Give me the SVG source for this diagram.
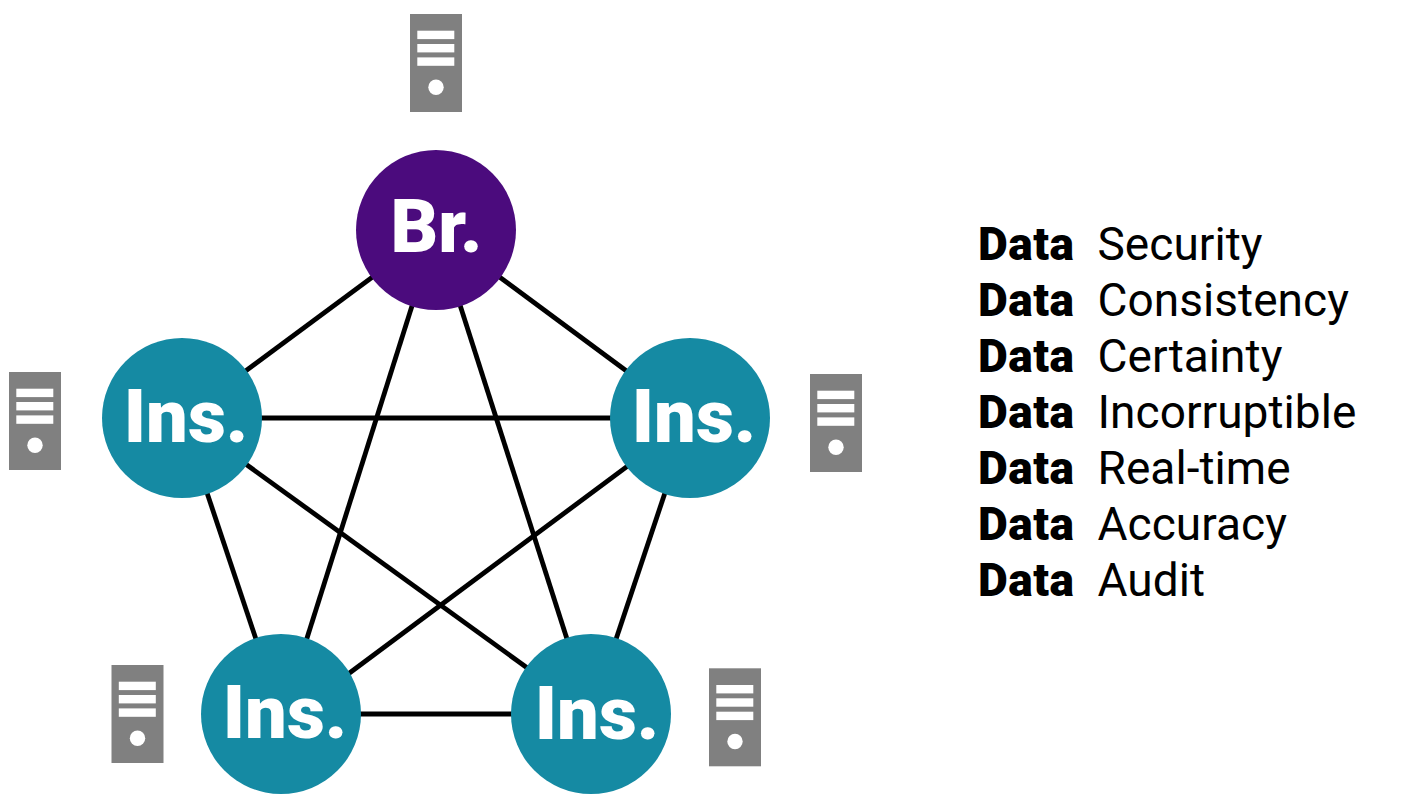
<svg xmlns="http://www.w3.org/2000/svg" xmlns:xlink="http://www.w3.org/1999/xlink" width="1415" height="803" viewBox="0 0 1415 803">
<style>
.edge{stroke:#000;stroke-width:4.8;fill:none}
.br{fill:#4b0b7d}
.ins{fill:#158aa3}
.nl{font-family:Roboto,"Liberation Sans",sans-serif;font-weight:900;font-size:74px;fill:#fff;text-anchor:middle}
.b{font-family:Roboto,"Liberation Sans",sans-serif;font-weight:900;font-size:46px;letter-spacing:.5px;fill:#000}
.r{font-family:Roboto,"Liberation Sans",sans-serif;font-weight:400;font-size:46px;letter-spacing:.05px;fill:#000}
</style>
<defs>
<g id="server">
<rect x="0" y="0" width="52" height="98" fill="#808080"/>
<rect x="7.3" y="16.7" width="37" height="8.4" fill="#fff"/>
<rect x="7.3" y="30" width="37" height="8.4" fill="#fff"/>
<rect x="7.3" y="43.4" width="37" height="8.4" fill="#fff"/>
<circle cx="26" cy="73.2" r="7.7" fill="#fff"/>
</g>
</defs>
<rect width="1415" height="803" fill="#fff"/>
<g id="connectors">
<line class="edge" x1="436" y1="230" x2="182" y2="418"/>
<line class="edge" x1="436" y1="230" x2="690" y2="418"/>
<line class="edge" x1="436" y1="230" x2="283" y2="714"/>
<line class="edge" x1="436" y1="230" x2="591" y2="714"/>
<line class="edge" x1="182" y1="418" x2="690" y2="418"/>
<line class="edge" x1="182" y1="418" x2="281" y2="714"/>
<line class="edge" x1="182" y1="418" x2="591" y2="714"/>
<line class="edge" x1="690" y1="419.6" x2="281" y2="724"/>
<line class="edge" x1="690" y1="418" x2="591" y2="714"/>
<line class="edge" x1="281" y1="714" x2="591" y2="714"/>
</g>
<g id="node-br"><circle class="br" cx="436" cy="230" r="80"/><text class="nl" x="436.5" y="252">Br.</text></g>
<g id="node-ins-left"><circle class="ins" cx="182" cy="418" r="80"/><text class="nl" x="186" y="442">Ins.</text></g>
<g id="node-ins-right"><circle class="ins" cx="690" cy="418" r="80"/><text class="nl" x="694" y="442">Ins.</text></g>
<g id="node-ins-bl"><circle class="ins" cx="281" cy="714" r="80"/><text class="nl" x="285" y="738">Ins.</text></g>
<g id="node-ins-br"><circle class="ins" cx="591" cy="714" r="80"/><text class="nl" x="597" y="738.5">Ins.</text></g>
<g id="server-top"><use xlink:href="#server" href="#server" x="410" y="14"/></g>
<g id="server-left"><use xlink:href="#server" href="#server" x="9" y="372"/></g>
<g id="server-right"><use xlink:href="#server" href="#server" x="810" y="374"/></g>
<g id="server-bl"><use xlink:href="#server" href="#server" x="111.500" y="665"/></g>
<g id="server-br"><use xlink:href="#server" href="#server" x="709" y="668.300"/></g>
<g id="legend">
<text class="b" x="978" y="260">Data</text><text class="r" x="1097.500" y="260">Security</text>
<text class="b" x="978" y="316">Data</text><text class="r" x="1097.500" y="316">Consistency</text>
<text class="b" x="978" y="372">Data</text><text class="r" x="1097.500" y="372">Certainty</text>
<text class="b" x="978" y="428">Data</text><text class="r" x="1097.500" y="428">Incorruptible</text>
<text class="b" x="978" y="484">Data</text><text class="r" x="1097.500" y="484">Real-time</text>
<text class="b" x="978" y="540">Data</text><text class="r" x="1097.500" y="540">Accuracy</text>
<text class="b" x="978" y="596">Data</text><text class="r" x="1097.500" y="596">Audit</text>
</g>
</svg>
